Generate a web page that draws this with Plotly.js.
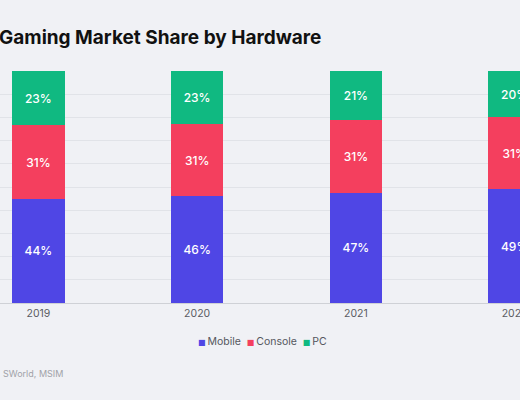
<!DOCTYPE html>
<html>
<head>
<meta charset="utf-8">
<script src="https://cdn.plot.ly/plotly-3.0.1.min.js"></script>
<style>
html,body{margin:0;padding:0;width:520px;height:400px;overflow:hidden;background:#f0f1f5;}
#chart{position:absolute;left:-61px;top:0;width:700px;height:400px;}
</style>
</head>
<body>
<div id="chart"></div>
<script>
const years = ['2019', '2020', '2021', '2022'];
const mobile = [44, 46, 47, 49];
const consoleShare = [31, 31, 31, 31];
const pc = [23, 23, 21, 20];
const seriesNames = ['Mobile', 'Console', 'PC'];
const titleText = 'Gaming Market Share by Hardware';
const sourceText = 'SWorld, MSIM';

const colors = ['#4f46e5', '#f43f5e', '#10b981'];
const series = [mobile, consoleShare, pc];

const traces = series.map((vals, i) => ({
  type: 'bar',
  name: seriesNames[i],
  x: years,
  y: vals,
  text: vals.map(v => v + '%'),
  textposition: 'inside',
  insidetextanchor: 'middle',
  textangle: 0,
  constraintext: 'none',
  textfont: {family: 'Inter, sans-serif', size: 12, color: '#ffffff', weight: 500},
  marker: {color: colors[i], line: {width: 0}},
  showlegend: false,
  hoverinfo: 'skip'
}));

// compact legend row (square swatch + series name), built from the series names and colours
const legendText = seriesNames.map((n, i) =>
  '<span style="color:' + colors[i] + ';font-family:DejaVu Sans;font-size:8px">\u25A0</span>\u2009' + n
).join('\u00A0\u00A0');

const layout = {
  width: 700,
  height: 400,
  barmode: 'stack',
  barnorm: 'percent',
  bargap: 0.668,
  paper_bgcolor: '#f0f1f5',
  plot_bgcolor: '#f0f1f5',
  margin: {l: 20, r: 45, t: 71, b: 97},
  font: {family: 'Inter, sans-serif', color: '#555555'},
  title: {
    text: titleText,
    font: {family: 'Inter, sans-serif', size: 19, color: '#111111', weight: 700},
    xref: 'container', x: 60 / 700, xanchor: 'left',
    yref: 'container', y: 1 - 37 / 400, yanchor: 'middle'
  },
  xaxis: {
    type: 'category',
    showgrid: false,
    showline: true,
    linecolor: '#cfd1d6',
    linewidth: 1,
    ticks: '',
    tickfont: {family: 'Inter, sans-serif', size: 10.5, color: '#5a5c63'},
    fixedrange: true
  },
  yaxis: {
    range: [0, 100],
    dtick: 10,
    showticklabels: false,
    gridcolor: '#e1e3e8',
    gridwidth: 1,
    zeroline: false,
    fixedrange: true
  },
  showlegend: false,
  annotations: [{
    text: legendText,
    xref: 'paper', yref: 'paper',
    x: (262 + 61 - 20) / 635, xanchor: 'center',
    y: -(341 - 303) / 232, yanchor: 'middle',
    showarrow: false,
    font: {family: 'Inter, sans-serif', size: 10.5, color: '#55575e'}
  }, {
    text: sourceText,
    xref: 'paper', yref: 'paper',
    x: (61.5 - 20) / 635, xanchor: 'left',
    y: -(374 - 303) / 232, yanchor: 'middle',
    showarrow: false,
    font: {family: 'Inter, sans-serif', size: 9, color: '#a0a2a8'}
  }]
};

Plotly.newPlot('chart', traces, layout, {staticPlot: true, displayModeBar: false});
</script>
</body>
</html>
